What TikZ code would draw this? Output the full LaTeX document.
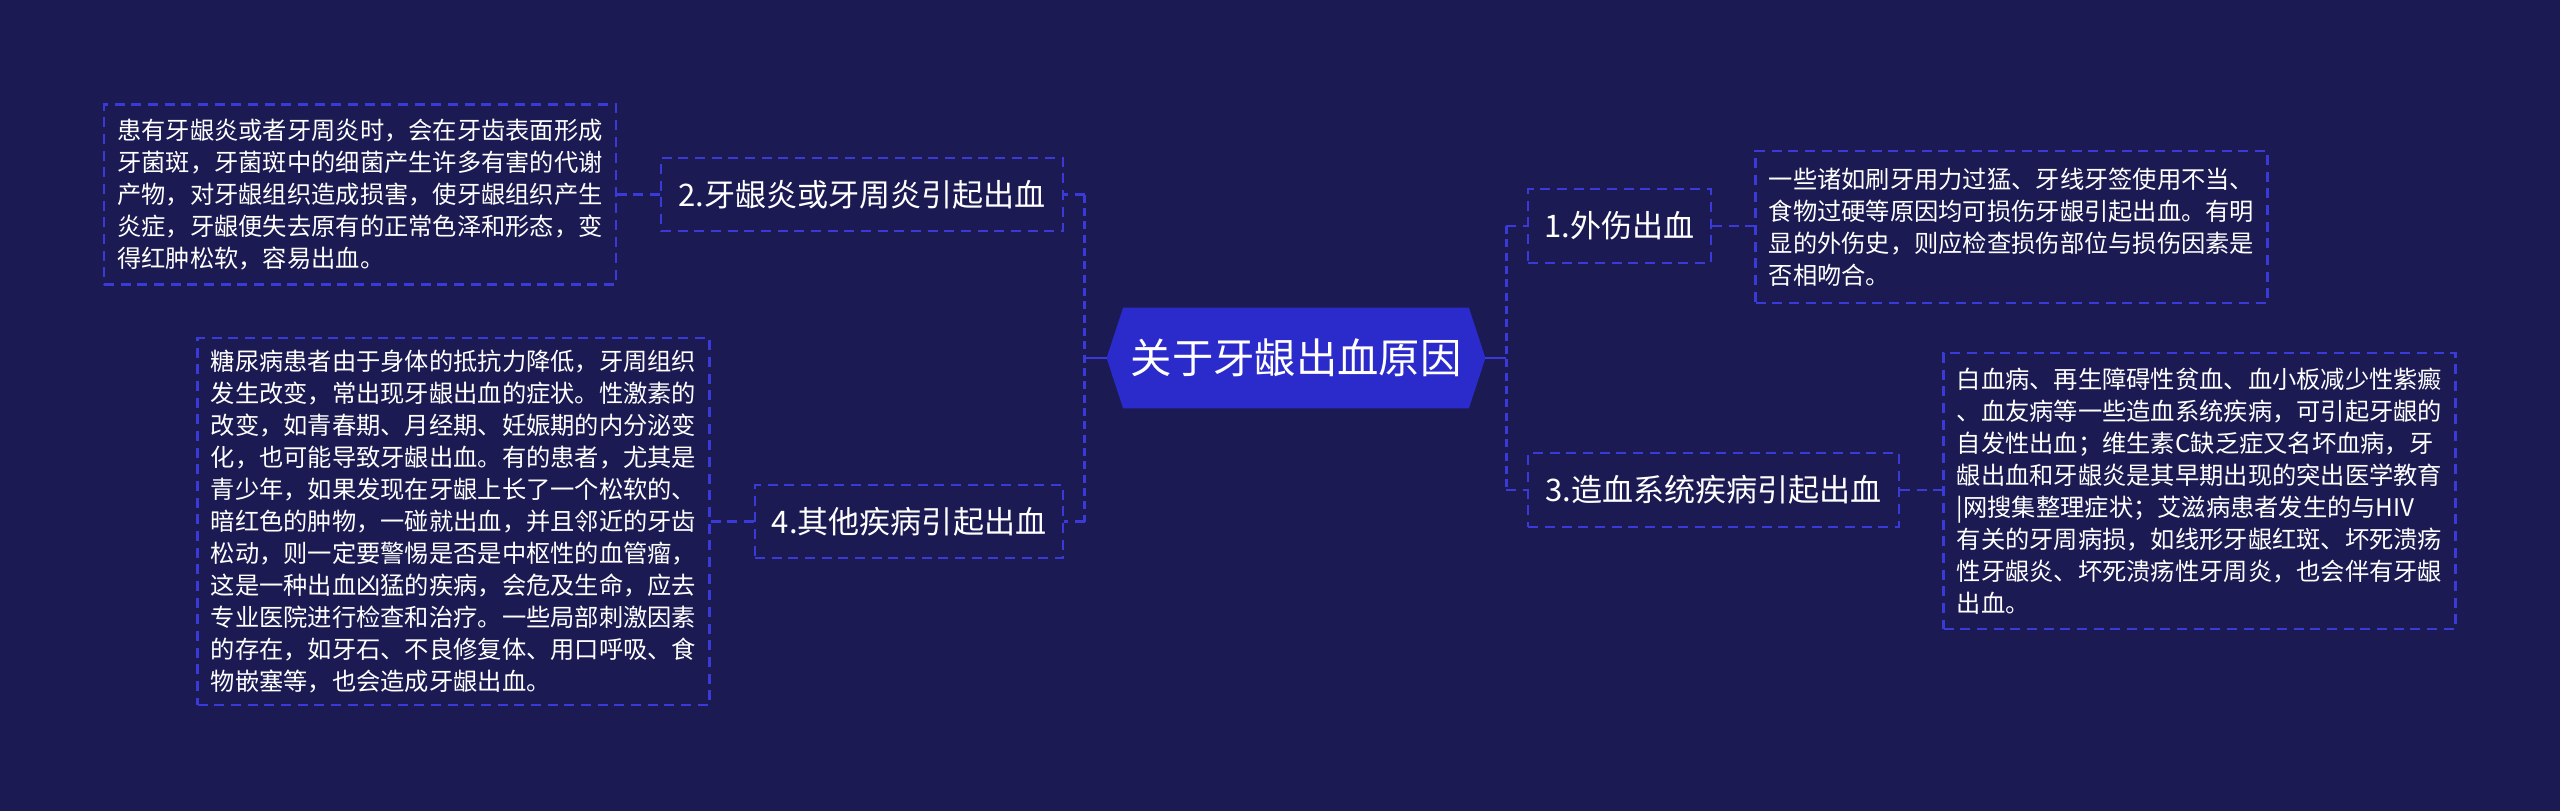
\documentclass[tikz,border=0pt]{standalone}
\usepackage{fontspec}
\newfontfamily\cjk{Noto Sans CJK SC}
\usetikzlibrary{backgrounds,calc}
\definecolor{bgcol}{HTML}{1B1A52}
\definecolor{hexcol}{HTML}{2B2ACB}
\definecolor{linecol}{HTML}{3A3AD8}
\tikzset{
  leafbox/.style={draw=linecol, line width=1.6pt, dash pattern=on 7.5pt off 5pt,
    text=white, align=left, inner xsep=10pt, inner ysep=0pt,
    text width=364pt, minimum width=384pt,
    font=\cjk\fontsize{18.2}{24}\selectfont},
  branchbox/.style={draw=linecol, line width=1.6pt, dash pattern=on 7.5pt off 5pt,
    text=white, inner sep=0pt, minimum height=55pt,
    font=\cjk\fontsize{23.3}{28}\selectfont},
  rootbox/.style={text=white, inner sep=0pt, minimum width=259pt, minimum height=75pt,
    font=\cjk\fontsize{31}{36}\selectfont},
  link/.style={draw=linecol, line width=1.6pt, dash pattern=on 7.5pt off 5pt},
  trunk/.style={draw=linecol, line width=2.5pt, dash pattern=on 6pt off 4pt},
  stub/.style={draw=linecol, line width=2.2pt}
}
\begin{document}
\begin{tikzpicture}[x=0.75pt,y=-0.75pt]
\useasboundingbox (0,0) rectangle (2560,811);
% root
\node[rootbox] (c) at (1296,358) {关于牙龈出血原因};
% branches
\node[branchbox, minimum width=301.5pt] (b2) at (862,194.5) {2.牙龈炎或牙周炎引起出血};
\node[branchbox, minimum width=231pt] (b4) at (909,521.5) {4.其他疾病引起出血};
\node[branchbox, minimum width=137pt] (b1) at (1619.5,226) {1.外伤出血};
\node[branchbox, minimum width=278pt] (b3) at (1713.5,490) {3.造血系统疾病引起出血};
% leaves
\node[leafbox, minimum height=135pt] (l2) at (360,194.5) {患有牙龈炎或者牙周炎时，会在牙齿表面形成\\牙菌斑，牙菌斑中的细菌产生许多有害的代谢\\产物，对牙龈组织造成损害，使牙龈组织产生\\炎症，牙龈便失去原有的正常色泽和形态，变\\得红肿松软，容易出血。};
\node[leafbox, minimum height=275pt] (l4) at (453.5,521.5) {糖尿病患者由于身体的抵抗力降低，牙周组织\\发生改变，常出现牙龈出血的症状。性激素的\\改变，如青春期、月经期、妊娠期的内分泌变\\化，也可能导致牙龈出血。有的患者，尤其是\\青少年，如果发现在牙龈上长了一个松软的、\\暗红色的肿物，一碰就出血，并且邻近的牙齿\\松动，则一定要警惕是否是中枢性的血管瘤，\\这是一种出血凶猛的疾病，会危及生命，应去\\专业医院进行检查和治疗。一些局部刺激因素\\的存在，如牙石、不良修复体、用口呼吸、食\\物嵌塞等，也会造成牙龈出血。};
\node[leafbox, minimum height=114pt] (l1) at (2011.5,227) {一些诸如刷牙用力过猛、牙线牙签使用不当、\\食物过硬等原因均可损伤牙龈引起出血。有明\\显的外伤史，则应检查损伤部位与损伤因素是\\否相吻合。};
\node[leafbox, minimum height=207pt] (l3) at (2199.5,491) {白血病、再生障碍性贫血、血小板减少性紫癜\\、血友病等一些造血系统疾病，可引起牙龈的\\自发性出血；维生素C缺乏症又名坏血病，牙\\龈出血和牙龈炎是其早期出现的突出医学教育\\|网搜集整理症状；艾滋病患者发生的与HIV\\有关的牙周病损，如线形牙龈红斑、坏死溃疡\\性牙龈炎、坏死溃疡性牙周炎，也会伴有牙龈\\出血。};
% hub points
\coordinate (hl) at ($(c.west)+(-38.5,0)$);
\coordinate (hr) at ($(c.east)+(37.5,0)$);
\coordinate (tl) at ($(c.west)+(-16.5,0)$);
\coordinate (tr) at ($(c.east)+(16.5,0)$);
% connectors
\draw[stub] (tl) -- (hl);
\draw[stub] (tr) -- (hr);
\draw[trunk] (hl |- b2.east) -- (hl |- b4.east);
\draw[trunk] (hr |- b1.west) -- (hr |- b3.west);
\draw[link] (hl |- b2.east) -- (b2.east);
\draw[link] (hl |- b4.east) -- (b4.east);
\draw[link] (hr |- b1.west) -- (b1.west);
\draw[link] (hr |- b3.west) -- (b3.west);
\draw[link] (b2.west) -- (l2.east |- b2.west);
\draw[link] (b4.west) -- (l4.east |- b4.west);
\draw[link] (b1.east) -- (l1.west |- b1.east);
\draw[link] (b3.east) -- (l3.west |- b3.east);
\begin{pgfonlayer}{background}
\fill[bgcol] (0,0) rectangle (2560,811);
\fill[hexcol] (c.north west) -- (c.north east) -- (tr) -- (c.south east) -- (c.south west) -- (tl) -- cycle;
\end{pgfonlayer}
\end{tikzpicture}
\end{document}
